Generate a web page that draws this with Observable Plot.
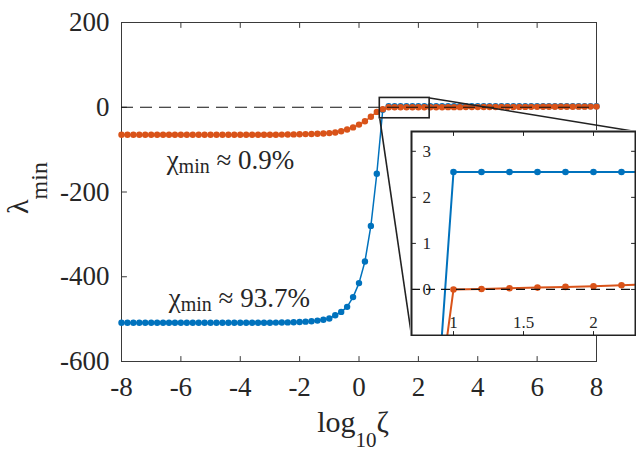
<!DOCTYPE html>
<html><head><meta charset="utf-8">
<script src="https://cdn.jsdelivr.net/npm/d3@7"></script>
<script src="https://cdn.jsdelivr.net/npm/@observablehq/plot@0.6"></script>
<style>
body{margin:0;background:#fff;}
#wrap{position:relative;width:638px;height:458px;}
#wrap svg{position:absolute;}
#wrap svg, #wrap svg text, #wrap svg g{font-family:"Liberation Serif", serif !important;}
</style></head><body><div id="wrap"></div>
<script>
// ---- data ----
const zeta = [
 -8,-7.8,-7.6,-7.4,-7.2,-7,-6.8,-6.6,-6.4,-6.2,
 -6,-5.8,-5.6,-5.4,-5.2,-5,-4.8,-4.6,-4.4,-4.2,
 -4,-3.8,-3.6,-3.4,-3.2,-3,-2.8,-2.6,-2.4,-2.2,
 -2,-1.8,-1.6,-1.4,-1.2,-1,-0.8,-0.6,-0.4,-0.2,
 0,0.2,0.4,0.6,0.8,1,1.2,1.4,1.6,1.8,
 2,2.2,2.4,2.6,2.8,3,3.2,3.4,3.6,3.8,
 4,4.2,4.4,4.6,4.8,5,5.2,5.4,5.6,5.8,
 6,6.2,6.4,6.6,6.8,7,7.2,7.4,7.6,7.8,
 8];
const lambdaBlue = [
 -508.5,-508.5,-508.5,-508.5,-508.5,-508.5,-508.5,-508.5,-508.5,-508.5,
 -508.5,-508.5,-508.5,-508.5,-508.5,-508.5,-508.5,-508.5,-508.5,-508.5,
 -508.5,-508.5,-508.5,-508.5,-508.5,-508.4,-508.2,-508,-507.7,-507.3,
 -506.8,-506,-505,-503.5,-501.5,-498.5,-491,-483,-471,-448,
 -415,-364,-280,-157,-6,2.55,2.55,2.55,2.55,2.55,
 2.55,2.55,2.55,2.55,2.55,2.55,2.55,2.55,2.55,2.55,
 2.55,2.55,2.55,2.55,2.55,2.55,2.55,2.55,2.55,2.55,
 2.55,2.55,2.55,2.55,2.55,2.55,2.55,2.55,2.55,2.55,
 2.55];
const lambdaOrange = [
 -65,-65,-65,-65,-65,-65,-65,-65,-65,-65,
 -65,-65,-65,-65,-65,-65,-65,-65,-65,-65,
 -65,-65,-65,-65,-65,-65,-64.8,-64.6,-64.4,-64.1,
 -63.8,-63.4,-63,-62.5,-61.9,-61,-59.5,-56.5,-52.5,-47.5,
 -41,-33,-22.5,-11,-4.5,0,0.01,0.025,0.04,0.055,
 0.07,0.09,0.11,0.13,0.16,0.19,0.22,0.26,0.30,0.35,
 0.40,0.45,0.50,0.56,0.62,0.68,0.74,0.80,0.86,0.92,
 0.98,1.04,1.10,1.16,1.22,1.28,1.34,1.40,1.46,1.52,
 1.58];
const xTicks = [-8,-6,-4,-2,0,2,4,6,8];
const yTicks = [200,0,-200,-400,-600];
const insetXTicks = [1,1.5,2];
const insetYTicks = [0,1,2,3];
const xDomain = [-8,8], yDomain = [-600,200];
const insetXDomain = [0.7,2.3], insetYDomain = [-1,3.43];
const zoomBoxX = [0.7,2.38], zoomBoxY = [-26,22];
const annotX = [-6.48,-6.41];
const annotY = [-145.4,-472];
const annotText = ["χmin ≈ 0.9%","χmin ≈ 93.7%"];
const xLabel = "log10ζ", yLabel = "λmin";

// ---- styles / layout ----
const blue = "#0072BD", orange = "#D95319", ink = "#262626";
const W = 638, H = 458, mL = 121, mR = 42, mT = 22, mB = 97;
const iLeft = 410, iTop = 130, iW = 226, iH = 206, iM = 1;
const font = "Liberation Serif";

const rows = zeta.map((z,i) => ({zeta: z, blue: lambdaBlue[i], orange: lambdaOrange[i]}));
const annots = annotText.map((t,i) => ({x: annotX[i], y: annotY[i], t}));

const tickShape = {draw(ctx, l){ ctx.moveTo(0,0); ctx.lineTo(0,-l); }};
function frameTicks(xt, yt, len, color, sw) {
  const o = {length: len, anchor: "start", shape: tickShape, stroke: color, strokeWidth: sw};
  return [
    Plot.vector(xt, {x: d=>d, frameAnchor: "bottom", rotate: 0, ...o}),
    Plot.vector(xt, {x: d=>d, frameAnchor: "top", rotate: 180, ...o}),
    Plot.vector(yt, {y: d=>d, frameAnchor: "left", rotate: 90, ...o}),
    Plot.vector(yt, {y: d=>d, frameAnchor: "right", rotate: -90, ...o})
  ];
}

// scales used to place the connectors on the inset corners
const sx = Plot.scale({x: {domain: xDomain, range: [mL, W - mR]}});
const sy = Plot.scale({y: {domain: yDomain, range: [H - mB, mT]}});
const connectors = [
  {x1: zoomBoxX[1], y1: zoomBoxY[1], x2: sx.invert(iLeft + iW - iM), y2: sy.invert(iTop + iM)},
  {x1: zoomBoxX[0], y1: zoomBoxY[0], x2: sx.invert(iLeft + iM), y2: sy.invert(iTop + iH - iM)}
];

const main = Plot.plot({
  width: W, height: H,
  marginLeft: mL, marginRight: mR, marginTop: mT, marginBottom: mB,
  style: {fontFamily: font, color: ink, background: "white"},
  x: {domain: xDomain, label: null},
  y: {domain: yDomain, label: null},
  marks: [
    Plot.frame({stroke: "#3a3a3a", strokeWidth: 1}),
    ...frameTicks(xTicks, yTicks, 5, "#3a3a3a", 1),
    Plot.axisX(xTicks, {tickSize: 0, tickPadding: 15, tickFormat: d => String(d), fontSize: 27, fontFamily: font, label: null, fill: ink}),
    Plot.axisY(yTicks, {tickSize: 0, tickPadding: 12, tickFormat: d => String(d), fontSize: 27, fontFamily: font, label: null, fill: ink}),
    Plot.line(rows, {x: "zeta", y: "blue", stroke: blue, strokeWidth: 1.5}),
    Plot.dot(rows, {x: "zeta", y: "blue", fill: blue, r: 3.2}),
    Plot.line(rows, {x: "zeta", y: "orange", stroke: orange, strokeWidth: 1.5}),
    Plot.dot(rows, {x: "zeta", y: "orange", fill: orange, r: 3.2}),
    Plot.ruleY([0], {stroke: "#111", strokeWidth: 1.2, strokeDasharray: "12,7"}),
    Plot.rect([0], {x1: () => zoomBoxX[0], x2: () => zoomBoxX[1], y1: () => zoomBoxY[0], y2: () => zoomBoxY[1], fill: "none", stroke: "#222", strokeWidth: 1.6}),
    Plot.link(connectors, {x1: "x1", y1: "y1", x2: "x2", y2: "y2", stroke: "#222", strokeWidth: 1.6}),
    Plot.text(annots, {x: "x", y: "y", text: "t", textAnchor: "start", lineAnchor: "bottom", fontSize: 27, fontFamily: font, fill: ink}),
    Plot.text([xLabel], {text: d => d, frameAnchor: "bottom", dx: -6, dy: 70, lineAnchor: "bottom", textAnchor: "middle", fontSize: 30, fontFamily: font, fill: ink}),
    Plot.text([yLabel], {text: d => d, frameAnchor: "left", rotate: -90, dx: -94, dy: -4, lineAnchor: "bottom", textAnchor: "middle", fontSize: 30, fontFamily: font, fill: ink})
  ]
});

const inset = Plot.plot({
  width: iW, height: iH,
  marginLeft: iM, marginRight: iM, marginTop: iM, marginBottom: iM,
  style: {fontFamily: font, color: ink, background: "white"},
  x: {domain: insetXDomain, axis: null},
  y: {domain: insetYDomain, axis: null},
  marks: [
    ...frameTicks(insetXTicks, insetYTicks, 4, "#222", 1),
    Plot.text(insetYTicks, {y: d => d, text: d => String(d), frameAnchor: "left", dx: 11, textAnchor: "start", lineAnchor: "middle", fontSize: 17, fontFamily: font, fill: ink}),
    Plot.text(insetXTicks, {x: d => d, text: d => String(d), frameAnchor: "bottom", dy: -8, textAnchor: "middle", lineAnchor: "bottom", fontSize: 17, fontFamily: font, fill: ink}),
    Plot.line(rows, {x: "zeta", y: "blue", stroke: blue, strokeWidth: 2, clip: true}),
    Plot.dot(rows, {x: "zeta", y: "blue", fill: blue, r: 3.3, clip: true}),
    Plot.line(rows, {x: "zeta", y: "orange", stroke: orange, strokeWidth: 2, clip: true}),
    Plot.dot(rows, {x: "zeta", y: "orange", fill: orange, r: 3.3, clip: true}),
    Plot.ruleY([0], {stroke: "#111", strokeWidth: 1.2, strokeDasharray: "9,6"}),
    Plot.frame({stroke: "#222", strokeWidth: 2})
  ]
});

// subscripts as real text tspans
function subscript(svg, full, base, sub, rest, subSize, shift) {
  d3.select(svg).selectAll("text").filter(function(){ return this.textContent === full; }).each(function(){
    const t = d3.select(this);
    t.text(null);
    t.append("tspan").text(base);
    t.append("tspan").attr("font-size", subSize).attr("dy", shift).text(sub);
    if (rest) t.append("tspan").attr("dy", -shift).text(rest);
  });
}
subscript(main, "χmin ≈ 0.9%", "χ", "min", " ≈ 0.9%", 20, 4);
subscript(main, "χmin ≈ 93.7%", "χ", "min", " ≈ 93.7%", 20, 4);
subscript(main, xLabel, "log", "10", "ζ", 21, 15);
subscript(main, yLabel, "λ", "min", null, 24, 19);

const wrap = document.getElementById("wrap");
main.style.left = "0px"; main.style.top = "0px";
inset.style.left = iLeft + "px"; inset.style.top = iTop + "px";
wrap.appendChild(main);
wrap.appendChild(inset);
</script></body></html>
